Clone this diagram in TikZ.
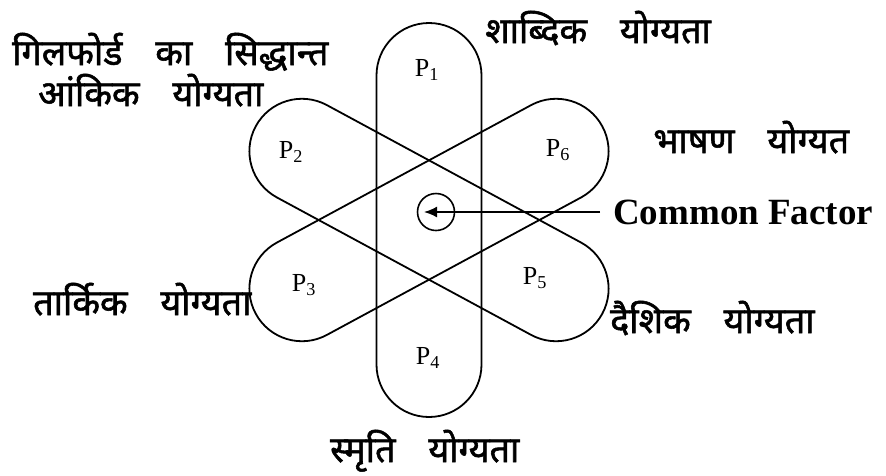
\documentclass[tikz,border=0pt]{standalone}
\usepackage{fontspec}
\setmainfont{Liberation Serif}
\newfontfamily\devfont[Script=Devanagari, WordSpace=3.5, FakeBold=1.5]{Noto Sans}
\usetikzlibrary{shapes.misc, arrows.meta}

\begin{document}
\begin{tikzpicture}[x=1pt, y=-1pt,
    stadium/.style={draw, line width=1.8pt, rounded rectangle, minimum width=394pt, minimum height=105pt, inner sep=0pt},
    plabel/.style={inner sep=0pt, font=\fontsize{26}{30}\selectfont},
    hindi/.style={anchor=base west, inner sep=0pt, font=\devfont\fontsize{36}{40}\selectfont}]
    \useasboundingbox (0,0) rectangle (886,475);
    % Tres factors de grup
    \node[stadium, rotate=90] (s14) at (429,220) {};
    \node[stadium, rotate=-28.4] (s25) at (429,220) {};
    \node[stadium, rotate=28.4] (s63) at (429,220) {};
    % Etiquetes P
    \node[plabel] (p1) at (427,70) {P\textsubscript{1}};
    \node[plabel] (p2) at (291,152) {P\textsubscript{2}};
    \node[plabel] (p3) at (304,285) {P\textsubscript{3}};
    \node[plabel] (p4) at (428,358) {P\textsubscript{4}};
    \node[plabel] (p5) at (535,278) {P\textsubscript{5}};
    \node[plabel] (p6) at (558,150) {P\textsubscript{6}};
    % Factor comu
    \node[circle, draw, line width=1.6pt, minimum size=37pt, inner sep=0pt] (cf) at (436,212) {};
    \coordinate (tip) at (424,212);
    \node[anchor=west, inner sep=0pt, font=\bfseries\fontsize{37}{42}\selectfont] (cftext) at (613,212) {Common Factor};
    \draw[line width=1.8pt, -{Latex[length=13pt,width=11pt]}] ([xshift=-13pt]cftext.west) -- (tip);
    % Textos
    \node[hindi] (guilford) at (12,65) {गिलफोर्ड का सिद्धान्त};
    \node[hindi] (numeric) at (38,106) {आंकिक योग्यता};
    \node[hindi] (verbal) at (485,43) {शाब्दिक योग्यता};
    \node[hindi] (speech) at (653,153) {भाषण योग्यत};
    \node[hindi] (reasoning) at (33,315) {तार्किक योग्यता};
    \node[hindi] (spatial) at (610,333) {दैशिक योग्यता};
    \node[hindi] (memory) at (330,462) {स्मृति योग्यता};
\end{tikzpicture}
\end{document}
